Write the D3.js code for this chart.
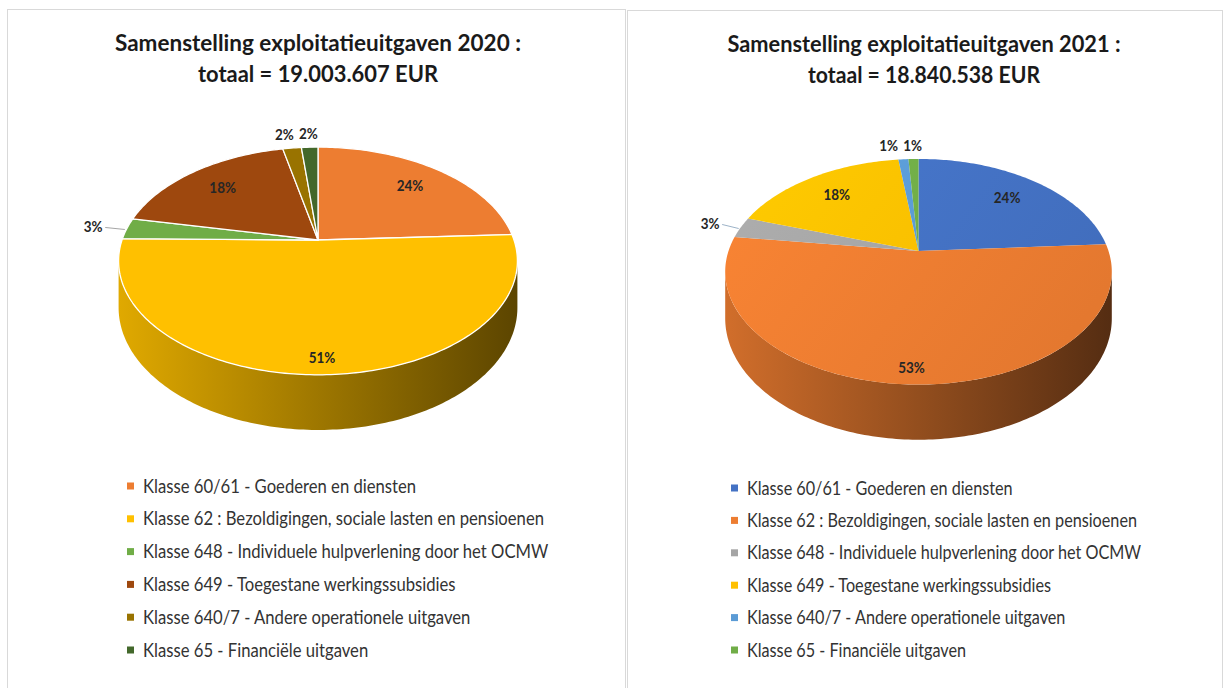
<!DOCTYPE html>
<html><head><meta charset="utf-8">
<script src="https://cdn.jsdelivr.net/npm/d3@7"></script>
<style>body{margin:0;background:#fff} svg{display:block}</style>
</head><body>
<svg id="chart" width="1226" height="688"></svg>
<script>
// ---------- data ----------
const categories = [
  "Klasse 60/61 - Goederen en diensten",
  "Klasse 62 : Bezoldigingen, sociale lasten en pensioenen",
  "Klasse 648 - Individuele hulpverlening door het OCMW",
  "Klasse 649 - Toegestane werkingssubsidies",
  "Klasse 640/7 - Andere operationele uitgaven",
  "Klasse 65 - Financiële uitgaven"
];
const values2020 = [24.2, 51.0, 3.0, 18.4, 1.8, 1.6];
const values2021 = [24.0, 53.1, 3.0, 17.9, 1.0, 1.0];
const colors2020 = ["#ED7D31", "#FFC000", "#70AD47", "#9E480E", "#997300", "#43682B"];
const colors2021 = ["#4472C4", "#ED7D31", "#A5A5A5", "#FFC000", "#5B9BD5", "#70AD47"];
const titles2020 = ["Samenstelling exploitatieuitgaven 2020 :", "totaal = 19.003.607 EUR"];
const titles2021 = ["Samenstelling exploitatieuitgaven 2021 :", "totaal = 18.840.538 EUR"];

// ---------- layout ----------
const panels = [
  {values: values2020, colors: colors2020, titles: titles2020,
   box: [7, 9, 618, 720], cx: 318, cy: 240, rx: 196, ry: 110, h: 45,
   titleX: 318, titleY: [51, 82], titleW: [406, 240],
   legX: 127, legY: 486, legStep: 32.8, legW: 401, stroke: "#fff", topGrad: false},
  {values: values2021, colors: colors2021, titles: titles2021,
   box: [627, 10, 595, 720], cx: 918.5, cy: 251, rx: 190, ry: 109, h: 45,
   titleX: 924, titleY: [52, 83], titleW: [393, 232],
   legX: 731, legY: 488, legStep: 32.4, legW: 390, stroke: "none", topGrad: true}
];

const PERS = 0.184;
const svg = d3.select("#chart");
const defs = svg.append("defs");
const shade = (c, k) => { const r = d3.rgb(c); return d3.rgb(r.r * k, r.g * k, r.b * k).formatHex(); };
const pctFmt = d3.format(".0%");
const FONT = "Lato, 'Open Sans', sans-serif";

panels.forEach((P, idx) => {
  const g = svg.append("g");
  g.append("rect").attr("x", P.box[0] + 0.5).attr("y", P.box[1] + 0.5)
    .attr("width", P.box[2]).attr("height", P.box[3])
    .attr("fill", "#fff").attr("stroke", "#D9D9D9").attr("stroke-width", 1);

  const color = d3.scaleOrdinal().domain(d3.range(categories.length)).range(P.colors);
  const arcs = d3.pie().sort(null).value(d => d)(P.values);
  const total = d3.sum(P.values);

  const proj = (a, r, dz) => {
    const u = Math.sin(a) * r, v = -Math.cos(a) * r;
    const s = 1 / (1 - PERS * v);
    return [P.cx + P.rx * u * s, P.cy + (P.ry * v + dz) * s];
  };
  const line = d3.line();
  const aR = Math.acos(-PERS), aL = 2 * Math.PI - aR;
  const rxMax = P.rx / Math.sqrt(1 - PERS * PERS);
  const steps = (a0, a1) => Math.max(2, Math.ceil((a1 - a0) / (2 * Math.PI) * 360));

  // gradients
  arcs.forEach((d, i) => {
    const c = color(i);
    const lg = defs.append("linearGradient").attr("id", `side${idx}_${i}`)
      .attr("gradientUnits", "userSpaceOnUse")
      .attr("x1", P.cx - rxMax).attr("x2", P.cx + rxMax).attr("y1", 0).attr("y2", 0);
    [[0, 0.88], [0.5, 0.62], [1, 0.36]].forEach(([o, k]) =>
      lg.append("stop").attr("offset", o).attr("stop-color", shade(c, k)));
    const tg = defs.append("linearGradient").attr("id", `top${idx}_${i}`)
      .attr("gradientUnits", "userSpaceOnUse")
      .attr("x1", P.cx - rxMax).attr("x2", P.cx + rxMax * 0.6)
      .attr("y1", P.cy - P.ry).attr("y2", P.cy + P.ry * 1.2);
    const ks = P.topGrad ? [[0, 1.06], [1, 0.96]] : [[0, 1], [1, 1]];
    ks.forEach(([o, k]) => tg.append("stop").attr("offset", o).attr("stop-color", shade(c, k)));
  });

  // side walls (front)
  arcs.forEach((d, i) => {
    const a0 = Math.max(d.startAngle, aR), a1 = Math.min(d.endAngle, aL);
    if (a1 <= a0) return;
    const n = steps(a0, a1);
    const top = d3.range(n + 1).map(k => proj(a0 + (a1 - a0) * k / n, 1, 0));
    const bot = d3.range(n + 1).map(k => proj(a0 + (a1 - a0) * k / n, 1, P.h)).reverse();
    g.append("path").attr("d", line(top.concat(bot)) + "Z")
      .attr("fill", `url(#side${idx}_${i})`);
  });

  // top faces
  arcs.forEach((d, i) => {
    const n = steps(d.startAngle, d.endAngle);
    const pts = [proj(0, 0, 0)].concat(d3.range(n + 1).map(k =>
      proj(d.startAngle + (d.endAngle - d.startAngle) * k / n, 1, 0)));
    g.append("path").attr("d", line(pts) + "Z")
      .attr("fill", `url(#top${idx}_${i})`)
      .attr("stroke", P.stroke).attr("stroke-width", 1.3).attr("stroke-linejoin", "round");
  });

  // data labels
  const labs = arcs.map((d, i) => {
    const frac = d.value / total;
    const m = (d.startAngle + d.endAngle) / 2;
    const outside = frac < 0.05;
    const r = frac > 0.4 ? 0.89 : (outside ? 1.18 : 0.75);
    const [x, y] = proj(m, r, 0);
    return {i, m, x, y, outside, text: pctFmt(frac), side: outside && Math.abs(Math.sin(m)) > 0.6};
  });
  const topOut = labs.filter(l => l.outside && !l.side).sort((a, b) => b.x - a.x);
  for (let k = 1; k < topOut.length; k++) {
    const prev = topOut[k - 1], cur = topOut[k];
    if (prev.x - cur.x < 24) cur.x = prev.x - 24;
  }
  labs.forEach(l => {
    if (l.side) {
      const e = proj(l.m, 1, 0);
      const dir = Math.sin(l.m) < 0 ? 1 : -1;
      g.append("path").attr("d", line([[l.x + dir * 12, l.y + 1], [e[0] - dir * 2, e[1] + 1]]))
        .attr("stroke", idx === 0 ? "#A6A6A6" : "#9DB3C8").attr("stroke-width", 1).attr("fill", "none");
    }
    g.append("text").attr("x", l.x).attr("y", l.y).attr("dy", "0.36em")
      .attr("text-anchor", "middle")
      .attr("font-family", FONT).attr("font-weight", 700).attr("font-size", 16)
      .attr("fill", "#262626").text(l.text)
      .each(function () {
        const w = this.getComputedTextLength();
        d3.select(this).attr("textLength", w * 0.84).attr("lengthAdjust", "spacingAndGlyphs");
      });
  });

  // titles
  P.titles.forEach((t, k) => {
    g.append("text").attr("x", P.titleX).attr("y", P.titleY[k])
      .attr("text-anchor", "middle").attr("font-family", FONT).attr("font-weight", 700)
      .attr("font-size", 23).attr("fill", "#1a1a1a").text(t)
      .attr("textLength", P.titleW[k]).attr("lengthAdjust", "spacingAndGlyphs");
  });

  // legend
  const legTexts = categories.map((c, i) => {
    const yy = P.legY + i * P.legStep;
    g.append("rect").attr("x", P.legX).attr("y", yy - 3.5).attr("width", 7).attr("height", 7)
      .attr("fill", color(i));
    return g.append("text").attr("x", P.legX + 16).attr("y", yy).attr("dy", "0.36em")
      .attr("font-family", FONT).attr("font-size", 18.5).attr("fill", "#333").text(c);
  });
  const factor = P.legW / legTexts[1].node().getComputedTextLength();
  legTexts.forEach(t => {
    const w = t.node().getComputedTextLength();
    t.attr("textLength", w * factor).attr("lengthAdjust", "spacingAndGlyphs");
  });
});
</script>
</body></html>
